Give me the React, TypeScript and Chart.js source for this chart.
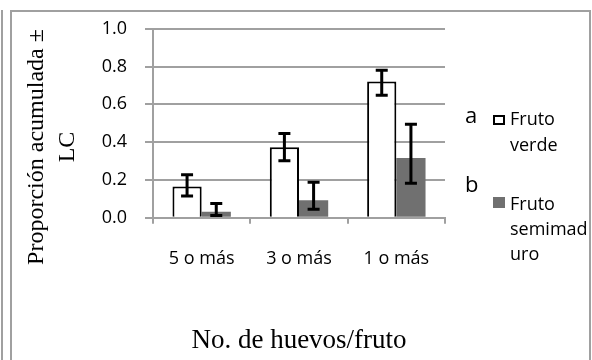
import React, { useEffect, useRef } from "react";
import { Chart, registerables } from "chart.js";

Chart.register(...registerables);

// ---- Data ----
const categories = ["5 o más", "3 o más", "1 o más"];
const seriesNames = ["Fruto verde", "Fruto semimaduro"];
const frutoVerde = [0.165, 0.373, 0.721];
const frutoVerdeLow = [0.115, 0.302, 0.648];
const frutoVerdeHigh = [0.228, 0.446, 0.781];
const frutoSemi = [0.031, 0.092, 0.316];
const frutoSemiLow = [0.012, 0.045, 0.182];
const frutoSemiHigh = [0.075, 0.188, 0.495];
const yTickValues = [0, 0.2, 0.4, 0.6, 0.8, 1.0];
const xTitle = "No. de huevos/fruto";
const yTitleLines = ["Proporción acumulada ±", "LC"];
const letterA = "a";
const letterB = "b";

const GRID = "#a0a0a0";
const SANS = "'Open Sans', 'Noto Sans', sans-serif";
const SERIF = "'Liberation Serif', 'Times New Roman', serif";
const GRAY_BAR = "#707070";

const errLows = [frutoVerdeLow, frutoSemiLow];
const errHighs = [frutoVerdeHigh, frutoSemiHigh];

const errorBarPlugin = {
  id: "errorBars",
  afterDatasetsDraw(chart: any) {
    const ctx = chart.ctx;
    const y = chart.scales.y;
    chart.data.datasets.forEach((_ds: any, i: number) => {
      const meta = chart.getDatasetMeta(i);
      meta.data.forEach((bar: any, j: number) => {
        const x = bar.x;
        const yl = y.getPixelForValue(errLows[i][j]);
        const yh = y.getPixelForValue(errHighs[i][j]);
        ctx.save();
        ctx.strokeStyle = "#000";
        ctx.lineWidth = 3;
        ctx.beginPath();
        ctx.moveTo(x, yl);
        ctx.lineTo(x, yh);
        ctx.moveTo(x - 6, yl);
        ctx.lineTo(x + 6, yl);
        ctx.moveTo(x - 6, yh);
        ctx.lineTo(x + 6, yh);
        ctx.stroke();
        ctx.restore();
      });
    });
  },
};

export default function App() {
  const canvasRef = useRef<HTMLCanvasElement | null>(null);

  useEffect(() => {
    if (!canvasRef.current) return;
    const chart = new Chart(canvasRef.current, {
      type: "bar",
      data: {
        labels: categories,
        datasets: [
          {
            label: seriesNames[0],
            data: frutoVerde,
            backgroundColor: "#ffffff",
            borderColor: "#000000",
            borderWidth: 2,
            categoryPercentage: 0.6,
            barPercentage: 1.0,
          },
          {
            label: seriesNames[1],
            data: frutoSemi,
            backgroundColor: GRAY_BAR,
            borderWidth: 0,
            categoryPercentage: 0.6,
            barPercentage: 1.0,
          },
        ],
      },
      options: {
        animation: false,
        responsive: false,
        layout: { padding: { left: 0, top: 25.7, right: 147, bottom: 0 } },
        plugins: {
          legend: { display: false },
          tooltip: { enabled: false },
        },
        scales: {
          x: {
            grid: {
              display: true,
              drawOnChartArea: false,
              drawTicks: true,
              tickLength: 6,
              color: GRID,
              lineWidth: 2,
              offset: true,
            },
            border: { display: true, color: GRID, width: 2 },
            ticks: {
              color: "#000",
              font: { family: SANS, size: 18 },
              padding: 24,
              maxRotation: 0,
            },
            title: {
              display: true,
              text: xTitle,
              color: "#000",
              font: { family: SERIF, size: 27 },
              padding: { top: 0, bottom: 3 },
            },
            afterFit: (s: any) => {
              s.height = 142.3;
            },
          },
          y: {
            min: 0,
            max: 1,
            afterBuildTicks: (s: any) => {
              s.ticks = yTickValues.map((v) => ({ value: v }));
            },
            ticks: {
              color: "#000",
              font: { family: SANS, size: 18 },
              padding: 18,
              callback: (v: any) => Number(v).toFixed(1),
            },
            grid: { color: GRID, lineWidth: 2, tickLength: 8 },
            border: { display: true, color: GRID, width: 2 },
            afterFit: (s: any) => {
              s.width = 153;
            },
          },
        },
      },
      plugins: [errorBarPlugin],
    });
    return () => chart.destroy();
  }, []);

  const line = (style: React.CSSProperties) => (
    <div style={{ position: "absolute", background: GRID, ...style }} />
  );

  return (
    <div
      style={{
        position: "absolute",
        left: 0,
        top: 0,
        width: 592,
        height: 360,
        background: "#fff",
        overflow: "hidden",
      }}
    >
      <canvas
        ref={canvasRef}
        width={592}
        height={360}
        style={{ position: "absolute", left: 0, top: 0, display: "block" }}
      />
      {/* frame lines */}
      {line({ left: 1, top: 10, width: 2, height: 350 })}
      {line({ left: 10, top: 10, width: 2, height: 350 })}
      {line({ left: 10, top: 10, width: 581, height: 2 })}
      {line({ left: 589, top: 10, width: 2, height: 350 })}

      {/* y-axis title */}
      <div
        style={{
          position: "absolute",
          left: 50.5 - 160,
          top: 147 - 31,
          width: 320,
          height: 62,
          lineHeight: "31px",
          fontFamily: SERIF,
          fontSize: 24,
          color: "#000",
          textAlign: "center",
          whiteSpace: "nowrap",
          transform: "rotate(-90deg)",
          transformOrigin: "50% 50%",
        }}
      >
        {yTitleLines[0]}
        <br />
        {yTitleLines[1]}
      </div>

      {/* significance letters */}
      <div
        style={{
          position: "absolute",
          left: 465,
          top: 102.5,
          fontFamily: SANS,
          fontSize: 22,
          lineHeight: "22px",
          color: "#000",
        }}
      >
        {letterA}
      </div>
      <div
        style={{
          position: "absolute",
          left: 465,
          top: 172.2,
          fontFamily: SANS,
          fontSize: 22,
          lineHeight: "22px",
          color: "#000",
        }}
      >
        {letterB}
      </div>

      {/* legend */}
      <div
        style={{
          position: "absolute",
          left: 493,
          top: 115,
          width: 12,
          height: 10,
          boxSizing: "border-box",
          border: "2px solid #000",
          background: "#fff",
        }}
      />
      <div
        style={{
          position: "absolute",
          left: 510,
          top: 106.3,
          fontFamily: SANS,
          fontSize: 18,
          lineHeight: "25.5px",
          color: "#000",
        }}
      >
        Fruto
        <br />
        verde
      </div>
      <div
        style={{
          position: "absolute",
          left: 493,
          top: 197,
          width: 12,
          height: 11,
          background: GRAY_BAR,
        }}
      />
      <div
        style={{
          position: "absolute",
          left: 510,
          top: 190.5,
          fontFamily: SANS,
          fontSize: 18,
          lineHeight: "25px",
          color: "#000",
        }}
      >
        Fruto
        <br />
        semimad
        <br />
        uro
      </div>
    </div>
  );
}
